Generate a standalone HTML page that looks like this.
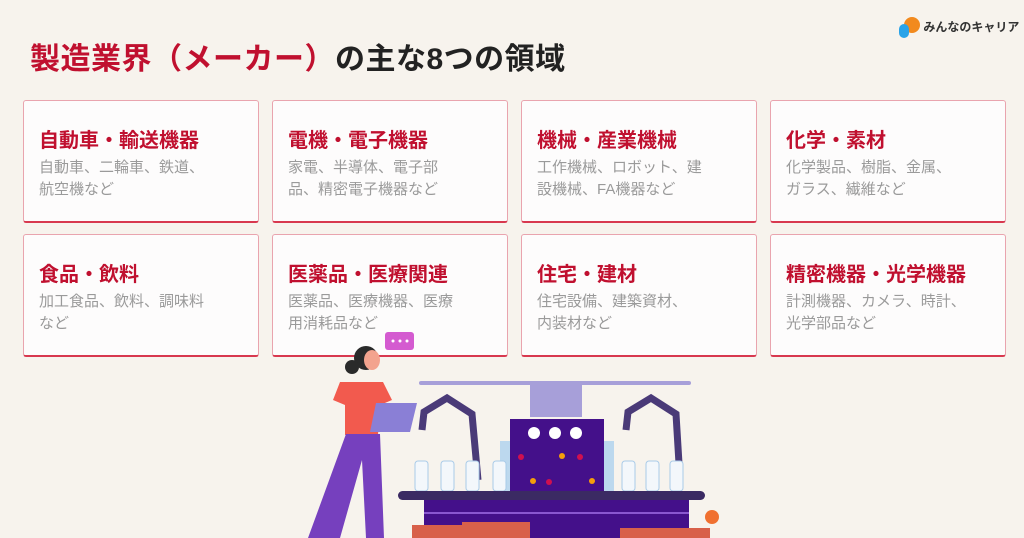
<!DOCTYPE html>
<html><head><meta charset="utf-8"><style>
body{margin:0;width:1024px;height:538px;background:#f7f3ed;font-family:"Liberation Sans","Noto Sans CJK JP",sans-serif;position:relative;overflow:hidden}
.t{position:absolute;left:30px;top:34px;font-size:30px;font-weight:bold;color:#222;letter-spacing:0.5px}
.t span{color:#c0102f}
.card{position:absolute;width:236px;height:123px;background:#fdfcfc;border:1px solid #e9a4ae;border-bottom:2px solid #d8384f;border-radius:3px;box-sizing:border-box}
.card h3{margin:0;position:absolute;left:15px;top:23px;font-size:20px;color:#c0102f;font-weight:bold}
.card p{margin:0;position:absolute;left:15px;top:56px;font-size:15px;line-height:22px;color:#9a9a9a;width:200px}
.logo{position:absolute;left:898px;top:16px;font-size:12px;font-weight:bold;color:#333;white-space:nowrap}
</style></head><body>
<div class="t"><span>製造業界（メーカー）</span>の主な8つの領域</div>
<div class="logo"><svg width="22" height="24" style="vertical-align:middle"><circle cx="14" cy="9" r="8" fill="#f28a1e"/><rect x="1" y="8" width="10" height="14" rx="5" fill="#2aa3e8"/></svg> みんなのキャリア</div>

<div class="card" style="left:23px;top:100px"><h3>自動車・輸送機器</h3><p>自動車、二輪車、鉄道、<br>航空機など</p></div>
<div class="card" style="left:272px;top:100px"><h3>電機・電子機器</h3><p>家電、半導体、電子部<br>品、精密電子機器など</p></div>
<div class="card" style="left:521px;top:100px"><h3>機械・産業機械</h3><p>工作機械、ロボット、建<br>設機械、FA機器など</p></div>
<div class="card" style="left:770px;top:100px"><h3>化学・素材</h3><p>化学製品、樹脂、金属、<br>ガラス、繊維など</p></div>
<div class="card" style="left:23px;top:234px"><h3>食品・飲料</h3><p>加工食品、飲料、調味料<br>など</p></div>
<div class="card" style="left:272px;top:234px"><h3>医薬品・医療関連</h3><p>医薬品、医療機器、医療<br>用消耗品など</p></div>
<div class="card" style="left:521px;top:234px"><h3>住宅・建材</h3><p>住宅設備、建築資材、<br>内装材など</p></div>
<div class="card" style="left:770px;top:234px"><h3>精密機器・光学機器</h3><p>計測機器、カメラ、時計、<br>光学部品など</p></div>

<svg width="1024" height="538" style="position:absolute;left:0;top:0">
<rect x="385" y="332" width="29" height="18" rx="3" fill="#d45bd0"/>
<circle cx="393" cy="341" r="1.5" fill="#fff"/><circle cx="400" cy="341" r="1.5" fill="#fff"/><circle cx="407" cy="341" r="1.5" fill="#fff"/>
<rect x="419" y="381" width="272" height="4" rx="2" fill="#a79fd9"/>
<rect x="530" y="385" width="52" height="32" fill="#a79fd9"/>
<path d="M422 430 L424 412 L447 398 L472 414 L478 480" stroke="#4a3a78" stroke-width="7" fill="none"/>
<path d="M626 430 L628 412 L651 398 L676 414 L680 480" stroke="#4a3a78" stroke-width="7" fill="none"/>
<rect x="500" y="441" width="10" height="50" fill="#bcd8ee"/><rect x="602" y="441" width="12" height="50" fill="#bcd8ee"/>
<rect x="510" y="419" width="94" height="82" fill="#44108a"/>
<circle cx="534" cy="433" r="6" fill="#fff"/><circle cx="555" cy="433" r="6" fill="#fff"/><circle cx="576" cy="433" r="6" fill="#fff"/>
<circle cx="521" cy="457" r="3" fill="#d0104f"/><circle cx="533" cy="481" r="3" fill="#f59e0b"/><circle cx="549" cy="482" r="3" fill="#d0104f"/><circle cx="562" cy="456" r="3" fill="#f59e0b"/><circle cx="580" cy="457" r="3" fill="#d0104f"/><circle cx="592" cy="481" r="3" fill="#f59e0b"/>
<g fill="#f3f7fb" stroke="#a9cbe8"><rect x="415" y="461" width="13" height="30" rx="3"/><rect x="441" y="461" width="13" height="30" rx="3"/><rect x="466" y="461" width="13" height="30" rx="3"/><rect x="493" y="461" width="13" height="30" rx="3"/><rect x="622" y="461" width="13" height="30" rx="3"/><rect x="646" y="461" width="13" height="30" rx="3"/><rect x="670" y="461" width="13" height="30" rx="3"/></g>
<rect x="398" y="491" width="307" height="9" rx="4.5" fill="#3b2a63"/>
<rect x="424" y="500" width="265" height="38" fill="#44108a"/>
<rect x="424" y="512" width="265" height="2" fill="#8a57d0"/>
<rect x="412" y="525" width="54" height="13" fill="#d8604a"/><rect x="462" y="522" width="68" height="16" fill="#d8604a"/><rect x="620" y="528" width="90" height="10" fill="#d8604a"/>
<circle cx="712" cy="517" r="7" fill="#f07030"/>
<circle cx="366" cy="358" r="12" fill="#2a2a2a"/><circle cx="352" cy="367" r="7" fill="#2a2a2a"/>
<ellipse cx="372" cy="360" rx="8" ry="10" fill="#f3a38e"/>
<path d="M340 382 L383 382 L392 400 L380 405 L378 435 L345 435 L345 405 L333 400 Z" fill="#f25a4e"/>
<path d="M346 434 L380 434 L384 538 L366 538 L362 460 L340 538 L308 538 Z" fill="#7640be"/>
<path d="M376 403 L417 403 L410 432 L370 432 Z" fill="#8a7fd6"/>
</svg>
</body></html>
